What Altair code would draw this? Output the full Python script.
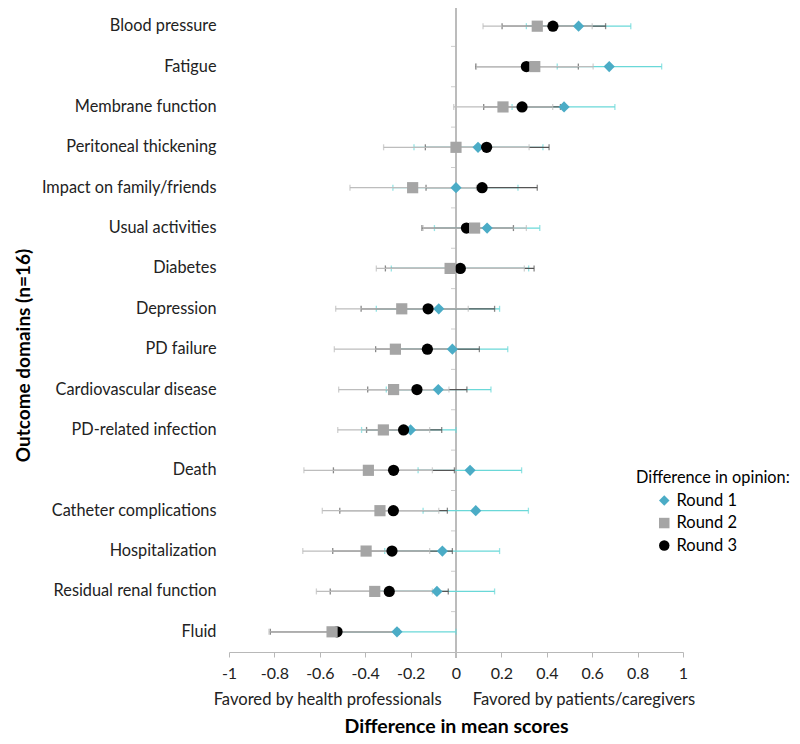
import altair as alt
import pandas as pd

domains = ["Blood pressure", "Fatigue", "Membrane function", "Peritoneal thickening",
           "Impact on family/friends", "Usual activities", "Diabetes", "Depression",
           "PD failure", "Cardiovascular disease", "PD-related infection", "Death",
           "Catheter complications", "Hospitalization", "Residual renal function", "Fluid"]
rounds = ["Round 1", "Round 2", "Round 3"]

r1_mean = [0.54, 0.675, 0.476, 0.097, 0.0, 0.137, 0.017, -0.076, -0.016, -0.078, -0.20, 0.062, 0.087, -0.06, -0.084, -0.26]
r1_lo = [0.31, 0.446, 0.247, -0.185, -0.278, -0.095, -0.285, -0.351, -0.26, -0.307, -0.416, -0.167, -0.145, -0.314, -0.338, -0.52]
r1_hi = [0.77, 0.906, 0.70, 0.383, 0.273, 0.369, 0.32, 0.192, 0.228, 0.154, 0.0, 0.289, 0.319, 0.192, 0.17, 0.0]

r2_mean = [0.358, 0.347, 0.207, 0.0, -0.191, 0.082, -0.026, -0.239, -0.267, -0.275, -0.32, -0.386, -0.335, -0.396, -0.358, -0.546]
r2_lo = [0.119, 0.09, -0.01, -0.319, -0.467, -0.145, -0.351, -0.53, -0.536, -0.517, -0.521, -0.67, -0.589, -0.675, -0.615, -0.824]
r2_hi = [0.60, 0.604, 0.426, 0.322, 0.09, 0.31, 0.301, 0.054, 0.0, -0.031, -0.116, -0.104, -0.076, -0.116, -0.104, -0.27]

r3_mean = [0.427, 0.31, 0.291, 0.135, 0.115, 0.046, 0.019, -0.123, -0.126, -0.172, -0.231, -0.275, -0.276, -0.282, -0.294, -0.524]
r3_lo = [0.203, 0.087, 0.122, -0.135, -0.132, -0.15, -0.311, -0.418, -0.354, -0.389, -0.394, -0.54, -0.512, -0.543, -0.554, -0.818]
r3_hi = [0.659, 0.539, 0.46, 0.41, 0.358, 0.253, 0.344, 0.17, 0.103, 0.048, -0.063, -0.007, -0.038, -0.016, -0.034, -0.25]

x_ticks = [-1, -0.8, -0.6, -0.4, -0.2, 0, 0.2, 0.4, 0.6, 0.8, 1]
side_labels = ["Favored by health professionals", "Favored by patients/caregivers"]

series = {
    "Round 1": (r1_mean, r1_lo, r1_hi),
    "Round 2": (r2_mean, r2_lo, r2_hi),
    "Round 3": (r3_mean, r3_lo, r3_hi),
}
draw_order = ["Round 1", "Round 3", "Round 2"]
rows = []
for rnd in draw_order:
    m, lo, hi = series[rnd]
    for d, a, b, c in zip(domains, m, lo, hi):
        rows.append({"domain": d, "round": rnd, "mean": a, "lo": b, "hi": c})
df = pd.DataFrame(rows)
dom_df = pd.DataFrame({"domain": domains})

FONT = "Lato"
W, H = 454, 646
bar_colors = {"Round 1": "#6ad8d8", "Round 2": "#bdbdbd", "Round 3": "#555555"}

xscale = alt.Scale(domain=[-1, 1], nice=False, zero=False)
yscale = alt.Scale(domain=domains, paddingInner=0, paddingOuter=0)
xaxis = alt.Axis(values=x_ticks, labelExpr="'' + datum.value", title="Difference in mean scores",
                 titleFontSize=19.5, titleFontWeight="bold", titlePadding=36, titleColor="#000",
                 labelFontSize=16, labelColor="#222", labelPadding=8, tickSize=5,
                 domainColor="#b8b8b8", tickColor="#b8b8b8", grid=False, labelFlush=False)
yaxis = alt.Axis(title="Outcome domains (n=16)", titleFontSize=19, titleFontWeight="bold",
                 titleColor="#000", titlePadding=8, titleY=349, labelFontSize=16.3, labelColor="#222",
                 labelPadding=13, ticks=False, domain=False, grid=False)


def X(field):
    return alt.X(field, type="quantitative", scale=xscale, axis=xaxis)


def Y(**kw):
    return alt.Y("domain:N", scale=yscale, axis=yaxis, sort=domains, **kw)


base = alt.Chart(df)
layers = []

zero_line = alt.Chart(dom_df).mark_rule(color="#bcbcbc", strokeWidth=2).encode(
    x=alt.X(datum=0, scale=xscale, axis=xaxis), y=alt.value(0), y2=alt.value(H + 6))
layers.append(zero_line)

bound_ticks = alt.Chart(dom_df).mark_tick(orient="horizontal", size=5, thickness=1, xOffset=-2.5,
                                          color="#b8b8b8").encode(
    x=alt.X(datum=0, scale=xscale, axis=xaxis), y=Y(bandPosition=0))
layers.append(bound_ticks)

for rnd in draw_order:
    b = base.transform_filter(alt.datum.round == rnd)
    c = bar_colors[rnd]
    layers.append(b.mark_rule(color=c, strokeWidth=1.3).encode(x=X("lo"), x2="hi:Q", y=Y()))
    layers.append(b.mark_tick(color=c, size=6, thickness=1.3).encode(x=X("lo"), y=Y()))
    layers.append(b.mark_tick(color=c, size=6, thickness=1.3).encode(x=X("hi"), y=Y()))

legend = alt.Legend(title="Difference in opinion:", orient="none", legendX=407, legendY=464,
                    titleFontSize=16.3, titleFontWeight="normal", titleColor="#000", titleFont=FONT,
                    labelFontSize=16.5, labelColor="#000", labelFont=FONT, symbolOffset=20,
                    symbolSize=110, rowPadding=5.5, titlePadding=6, labelOffset=4)
points = base.mark_point(filled=True, opacity=1, size=125).encode(
    x=X("mean"), y=Y(),
    color=alt.Color("round:N", scale=alt.Scale(domain=rounds, range=["#4bacc6", "#a5a5a5", "#000000"]),
                    legend=legend),
    shape=alt.Shape("round:N", scale=alt.Scale(domain=rounds, range=["diamond", "square", "circle"]),
                    legend=legend),
)
layers.append(points)

side_df = pd.DataFrame({"label": side_labels, "pos": [-0.063, 0.074]})
left_txt = alt.Chart(side_df).transform_filter(alt.datum.pos < 0).mark_text(
    align="right", baseline="middle", fontSize=16.6, font=FONT, color="#222").encode(
    x=alt.X("pos:Q", scale=xscale, axis=xaxis), y=alt.value(H + 48), text="label:N")
right_txt = alt.Chart(side_df).transform_filter(alt.datum.pos > 0).mark_text(
    align="left", baseline="middle", fontSize=16.6, font=FONT, color="#222").encode(
    x=alt.X("pos:Q", scale=xscale, axis=xaxis), y=alt.value(H + 48), text="label:N")
layers += [left_txt, right_txt]

chart = alt.layer(*layers).properties(
    width=W, height=H,
    autosize=alt.AutoSizeParams(type="none"),
    padding={"left": 221, "top": -2, "right": 109, "bottom": 84},
).configure(font=FONT).configure_view(stroke=None).configure_axis(labelFont=FONT, titleFont=FONT)

chart.save("out.html", embed_options={"renderer": "svg", "actions": False})
